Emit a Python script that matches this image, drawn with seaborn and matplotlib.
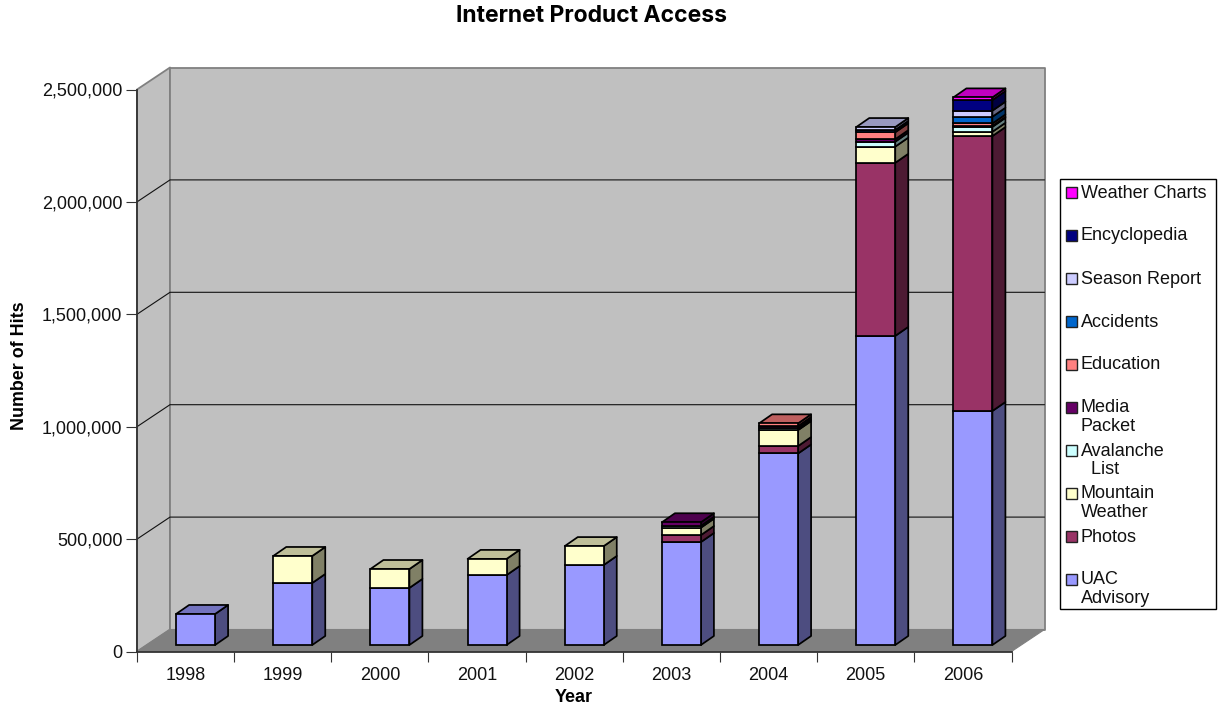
import matplotlib
matplotlib.use("Agg")
import matplotlib.pyplot as plt
from matplotlib.patches import Rectangle, Polygon
from matplotlib.colors import to_rgb
from matplotlib.ticker import FuncFormatter, MultipleLocator
from matplotlib.transforms import ScaledTranslation
import numpy as np
import pandas as pd
import seaborn as sns

years = ["1998", "1999", "2000", "2001", "2002", "2003", "2004", "2005", "2006"]
series_names = ["UAC Advisory", "Photos", "Mountain Weather", "Avalanche List", "Media Packet",
                "Education", "Accidents", "Season Report", "Encyclopedia", "Weather Charts"]
legend_labels = ["UAC\nAdvisory", "Photos", "Mountain\nWeather", "Avalanche\n  List", "Media\nPacket",
                 "Education", "Accidents", "Season Report", "Encyclopedia", "Weather Charts"]
colors = ["#9999FF", "#993366", "#FFFFCC", "#CCFFFF", "#660066",
          "#FF8080", "#0066CC", "#CCCCFF", "#000080", "#FF00FF"]

uac = [138000, 276000, 254000, 311000, 356000, 458000, 852000, 1375000, 1041000]
photos = [0, 0, 0, 0, 0, 31000, 33000, 770000, 1223000]
mountain = [0, 120000, 84000, 72000, 84000, 33000, 71000, 72000, 19000]
avalanche = [0, 0, 0, 0, 0, 8000, 8000, 22000, 22000]
media = [0, 0, 0, 0, 0, 16000, 10000, 11000, 4000]
education = [0, 0, 0, 0, 0, 0, 12000, 31000, 11000]
accidents = [0, 0, 0, 0, 0, 0, 0, 10000, 30000]
season = [0, 0, 0, 0, 0, 0, 0, 13000, 27000]
encyclopedia = [0, 0, 0, 0, 0, 0, 0, 0, 47000]
weather = [0, 0, 0, 0, 0, 0, 0, 0, 12000]
values = [uac, photos, mountain, avalanche, media, education, accidents, season, encyclopedia, weather]

W, H = 1219, 708
PX = 562 / 2500000           # pixels per hit
CAT = 874.5 / 9              # pixels per category
wall_dx, wall_dy = 33 / CAT, 22 / PX    # depth of the chart box in data units
bar_dx, bar_dy = 13 / CAT, 9 / PX       # depth of one bar
gap_dx, gap_dy = (wall_dx - bar_dx) / 2, (wall_dy - bar_dy) / 2
EDGE = 1.25
TEXT = 13

sns.set_theme(style="white")
plt.rcParams["font.family"] = ["Liberation Sans", "DejaVu Sans"]
fig = plt.figure(figsize=(W / 100, H / 100), dpi=100, facecolor="white")
ax = fig.add_axes([137 / W, (H - 651.5) / H, 874.5 / W, 562 / H])
ax.set_xlim(-0.5, 8.5)
ax.set_ylim(0, 2500000)
ax.patch.set_visible(False)
for s in ax.spines.values():
    s.set_visible(False)
ax.set_zorder(1)


def face(xs, ys, fc, ec="none", lw=0.0, z=1.0):
    ax.add_patch(Polygon(np.column_stack([xs, ys]), closed=True, facecolor=fc, edgecolor=ec,
                         linewidth=lw, clip_on=False, zorder=z, joinstyle="round"))


# chart box: side wall, back wall, floor
L, R = -0.5, 8.5
TOP = 2500000
wall_edge = "#808080"
face([L, L + wall_dx, L + wall_dx, L], [0, wall_dy, TOP + wall_dy, TOP], "#C0C0C0", wall_edge, 1.3, 0.5)
face([L + wall_dx, R + wall_dx, R + wall_dx, L + wall_dx], [wall_dy, wall_dy, TOP + wall_dy, TOP + wall_dy],
     "#C0C0C0", wall_edge, 1.3, 0.5)
face([L, R, R + wall_dx, L + wall_dx], [0, 0, wall_dy, wall_dy], "#808080", "#808080", 0.8, 0.6)

# gridlines on side and back wall
for g in range(500000, 2500000, 500000):
    ax.plot([L, L + wall_dx, R + wall_dx], [g, g + wall_dy, g + wall_dy], color="#111111", lw=0.8,
            clip_on=False, zorder=0.8)

# long-form table for seaborn
rows = []
cum = np.zeros(len(years))
for name, col, vals in zip(series_names, colors, values):
    vals = np.array(vals, dtype=float)
    for i, y in enumerate(years):
        if vals[i] > 0:
            rows.append(dict(year=y, hits=vals[i], bottom=cum[i], series=name))
    cum = cum + vals
df = pd.DataFrame(rows)

shift = ax.transData + ScaledTranslation(gap_dx * CAT / 100, gap_dy * PX / 100, fig.dpi_scale_trans)
bar_w = 39 / CAT
for name, col in zip(series_names, colors):
    sub = df[df.series == name]
    if sub.empty:
        continue
    sns.barplot(data=sub, x="year", y="hits", order=years, bottom=sub["bottom"].to_numpy() + 0.0,
                color=col, saturation=1, width=bar_w, edgecolor="black", linewidth=EDGE,
                errorbar=None, ax=ax, zorder=3, clip_on=False, transform=shift, legend=False)
    rgb = np.array(to_rgb(col))
    for _, r in sub.iterrows():
        i = years.index(r.year)
        x0 = i + bar_w / 2 + gap_dx
        y0 = r.bottom + gap_dy
        y1 = y0 + r.hits
        face([x0, x0 + bar_dx, x0 + bar_dx, x0], [y0, y0 + bar_dy, y1 + bar_dy, y1], rgb * 0.5, "black", EDGE, 2.5)

# top faces
for i, total in enumerate(cum):
    k = max(j for j, v in enumerate(values) if v[i] > 0)
    x0 = i - bar_w / 2 + gap_dx
    x1 = i + bar_w / 2 + gap_dx
    y = total + gap_dy
    face([x0, x1, x1 + bar_dx, x0 + bar_dx], [y, y, y + bar_dy, y + bar_dy],
         np.array(to_rgb(colors[k])) * 0.75, "black", EDGE, 2.6)

ax.set_xlim(-0.5, 8.5)
ax.set_ylim(0, 2500000)

# axes lines and ticks
ax.yaxis.set_major_locator(MultipleLocator(500000))
ax.yaxis.set_major_formatter(FuncFormatter(lambda v, p: f"{int(v):,}"))
ax.spines["left"].set_visible(True)
ax.spines["bottom"].set_visible(True)
ax.spines["left"].set_color("#333333")
ax.spines["bottom"].set_color("#333333")
ax.spines["left"].set_linewidth(1.3)
ax.spines["bottom"].set_linewidth(1.3)
ax.set_xticks(np.arange(-0.5, 9, 1), minor=False)
ax.set_xticklabels([])
ax.tick_params(axis="x", which="major", bottom=True, length=7, width=0.8, color="#333333", direction="out")
ax.tick_params(axis="y", which="major", left=True, length=8, width=0.8, color="#333333", direction="out",
               pad=2.5, labelsize=TEXT, labelcolor="#111111")
ax.set_xticks(np.arange(0, 9, 1), minor=True)
ax.set_xticklabels(years, minor=True)
ax.tick_params(axis="x", which="minor", bottom=False, length=0, pad=11, labelsize=TEXT, labelcolor="#111111")
ax.set_xlabel("")
ax.set_ylabel("")
for lab in ax.get_yticklabels():
    lab.set_verticalalignment("center_baseline")

fig.text(591.5 / W, 1 - 15.5 / H, "Internet Product Access", ha="center", va="center",
         fontsize=16.5, fontweight="bold", color="black", family=["Inter", "Liberation Sans"])
fig.text(574 / W, 1 - 697.5 / H, "Year", ha="center", va="center", fontsize=13, fontweight="bold", color="black")
fig.text(20 / W, 1 - 366 / H, "Number of Hits", ha="center", va="center", rotation=90,
         fontsize=12.9, fontweight="bold", color="black")

# legend box, drawn to keep the fixed row pitch
fig.add_artist(Rectangle((1059.5 / W, 1 - 609 / H), 156.5 / W, 430 / H, transform=fig.transFigure,
                         facecolor="white", edgecolor="black", linewidth=1.0))
order = list(range(len(series_names)))[::-1]
for row, k in enumerate(order):
    yc = 192.5 + row * 43
    fig.add_artist(Rectangle((1066 / W, 1 - (yc + 5.5) / H), 11 / W, 11 / H, transform=fig.transFigure,
                             facecolor=colors[k], edgecolor="#222222", linewidth=1.0))
    fig.text(1081 / W, 1 - (yc - 8) / H, legend_labels[k], ha="left", va="top", fontsize=TEXT,
             color="#111111", linespacing=1.15)

fig.savefig("out.png", dpi=100)
